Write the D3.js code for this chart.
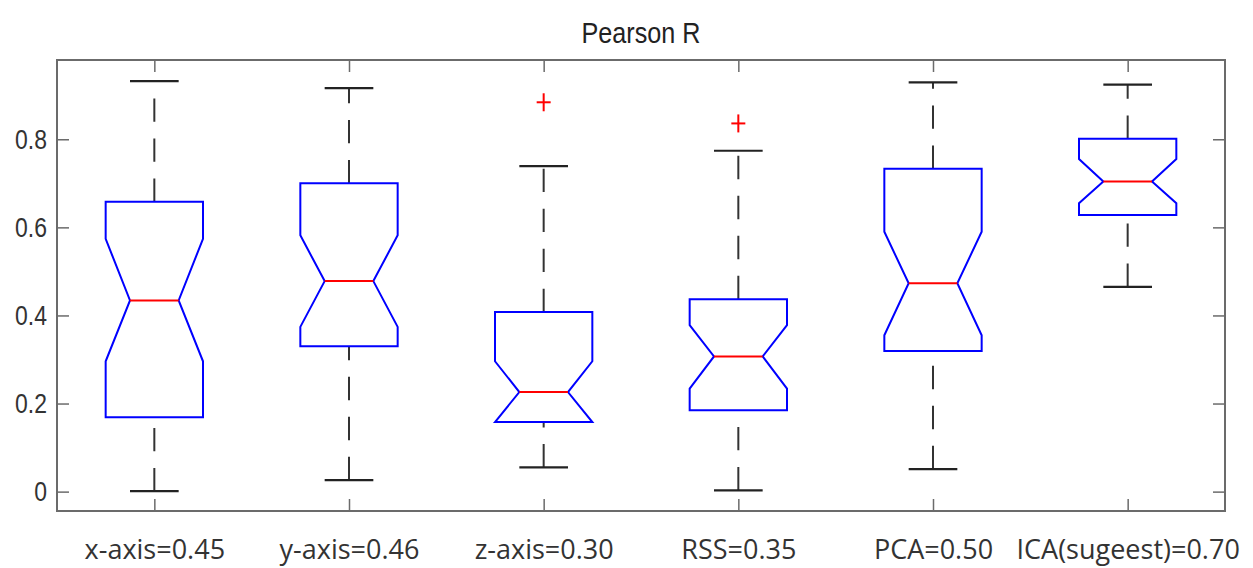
<!DOCTYPE html>
<html>
<head>
<meta charset="utf-8">
<script src="https://cdn.jsdelivr.net/npm/d3@7"></script>
<style>
  body { margin: 0; background: #fff; }
  svg { display: block; }
</style>
</head>
<body>
<div id="chart"></div>
<script>
// values (Pearson R per method)
const labels = ["x-axis=0.45", "y-axis=0.46", "z-axis=0.30", "RSS=0.35", "PCA=0.50", "ICA(sugeest)=0.70"];
const upperWhisker = [0.932, 0.916, 0.739, 0.774, 0.929, 0.924];
const q3 = [0.658, 0.700, 0.408, 0.437, 0.733, 0.801];
const notchHi = [0.574, 0.582, 0.296, 0.378, 0.590, 0.755];
const median = [0.434, 0.478, 0.226, 0.307, 0.473, 0.704];
const notchLo = [0.296, 0.374, 0.158, 0.234, 0.355, 0.655];
const q1 = [0.169, 0.330, 0.158, 0.185, 0.319, 0.628];
const lowerWhisker = [0.001, 0.026, 0.055, 0.003, 0.051, 0.465];
const outliers = [[], [], [0.884], [0.836], [], []];
const yTicks = [0, 0.2, 0.4, 0.6, 0.8];

const W = 1253, H = 568;
const plot = { left: 57, right: 1225, top: 60, bottom: 511 };

const svg = d3.select("#chart").append("svg")
  .attr("width", W).attr("height", H);

const x = d3.scaleLinear().domain([0.5, 6.5]).range([plot.left, plot.right]);
const y = d3.scaleLinear().domain([-0.044, 0.98]).range([plot.bottom, plot.top]);

const axisColor = "#6b6b6b";
const textColor = "#333";

// title
svg.append("text")
  .attr("transform", `translate(${(plot.left + plot.right) / 2},43) scale(0.84,1)`)
  .attr("text-anchor", "middle")
  .attr("font-family", "Liberation Sans, Arial, sans-serif")
  .attr("font-size", 30)
  .attr("fill", "#222")
  .text("Pearson R");

const idx = d3.range(labels.length);
const halfBox = 0.25, halfNotch = 0.125, halfCap = 0.125;

// whiskers (drawn from the low end upward so the dashes start there)
const g = svg.append("g");
idx.forEach(i => {
  const c = i + 1;
  g.append("line")
    .attr("x1", x(c)).attr("x2", x(c))
    .attr("y1", y(lowerWhisker[i])).attr("y2", y(q1[i]))
    .attr("stroke", "#333").attr("stroke-width", 2)
    .attr("stroke-dasharray", "23.3,16.7");
  g.append("line")
    .attr("x1", x(c)).attr("x2", x(c))
    .attr("y1", y(q3[i])).attr("y2", y(upperWhisker[i]))
    .attr("stroke", "#333").attr("stroke-width", 2)
    .attr("stroke-dasharray", "23.3,16.7");
  [lowerWhisker[i], upperWhisker[i]].forEach(v => {
    g.append("line")
      .attr("x1", x(c - halfCap)).attr("x2", x(c + halfCap))
      .attr("y1", y(v)).attr("y2", y(v))
      .attr("stroke", "#222").attr("stroke-width", 2.2);
  });
});

// notched boxes
const line = d3.line();
g.selectAll("path.box")
  .data(idx)
  .join("path")
  .attr("class", "box")
  .attr("d", i => {
    const c = i + 1;
    return line([
      [x(c - halfBox), y(q1[i])],
      [x(c - halfBox), y(notchLo[i])],
      [x(c - halfNotch), y(median[i])],
      [x(c - halfBox), y(notchHi[i])],
      [x(c - halfBox), y(q3[i])],
      [x(c + halfBox), y(q3[i])],
      [x(c + halfBox), y(notchHi[i])],
      [x(c + halfNotch), y(median[i])],
      [x(c + halfBox), y(notchLo[i])],
      [x(c + halfBox), y(q1[i])]
    ]) + "Z";
  })
  .attr("fill", "none")
  .attr("stroke", "#0000ff")
  .attr("stroke-width", 2)
  .attr("stroke-linejoin", "miter");

g.selectAll("line.median")
  .data(idx)
  .join("line")
  .attr("class", "median")
  .attr("x1", i => x(i + 1 - halfNotch))
  .attr("x2", i => x(i + 1 + halfNotch))
  .attr("y1", i => y(median[i]))
  .attr("y2", i => y(median[i]))
  .attr("stroke", "#ff0000")
  .attr("stroke-width", 2);

// outliers as red plus signs
const pts = idx.flatMap(i => outliers[i].map(v => [i + 1, v]));
const plus = g.selectAll("g.out").data(pts).join("g")
  .attr("class", "out")
  .attr("transform", d => `translate(${x(d[0])},${y(d[1])})`);
plus.append("line").attr("x1", -7).attr("x2", 7).attr("y1", 0).attr("y2", 0)
  .attr("stroke", "#ff0000").attr("stroke-width", 2);
plus.append("line").attr("x1", 0).attr("x2", 0).attr("y1", -9).attr("y2", 9)
  .attr("stroke", "#ff0000").attr("stroke-width", 2);

// axes, ticks pointing inward
function styleAxis(sel) {
  sel.select(".domain").remove();
  sel.selectAll(".tick line").attr("stroke", axisColor).attr("stroke-width", 1.5);
}

svg.append("g")
  .attr("transform", `translate(${plot.left},0)`)
  .call(d3.axisLeft(y).tickValues(yTicks).tickSize(-12).tickPadding(10).tickFormat(d3.format("")))
  .call(styleAxis)
  .call(a => a.selectAll("text")
    .attr("font-family", "Liberation Sans, Arial, sans-serif")
    .attr("font-size", 28)
    .attr("fill", textColor)
    .attr("x", 0)
    .attr("transform", "translate(-10,0) scale(0.82,1)"));

svg.append("g")
  .attr("transform", `translate(${plot.right},0)`)
  .call(d3.axisRight(y).tickValues(yTicks).tickSize(-12).tickFormat(""))
  .call(styleAxis);

svg.append("g")
  .attr("transform", `translate(0,${plot.bottom})`)
  .call(d3.axisBottom(x).tickValues(idx.map(i => i + 1)).tickSize(-12).tickPadding(29)
    .tickFormat(d => labels[d - 1]))
  .call(styleAxis)
  .call(a => a.selectAll("text")
    .attr("font-family", "Open Sans, sans-serif")
    .attr("font-size", 27)
    .attr("fill", textColor));

svg.append("g")
  .attr("transform", `translate(0,${plot.top})`)
  .call(d3.axisTop(x).tickValues(idx.map(i => i + 1)).tickSize(-12).tickFormat(""))
  .call(styleAxis);

// frame
svg.append("rect")
  .attr("x", plot.left).attr("y", plot.top)
  .attr("width", plot.right - plot.left).attr("height", plot.bottom - plot.top)
  .attr("fill", "none")
  .attr("stroke", axisColor)
  .attr("stroke-width", 2);
</script>
</body>
</html>
